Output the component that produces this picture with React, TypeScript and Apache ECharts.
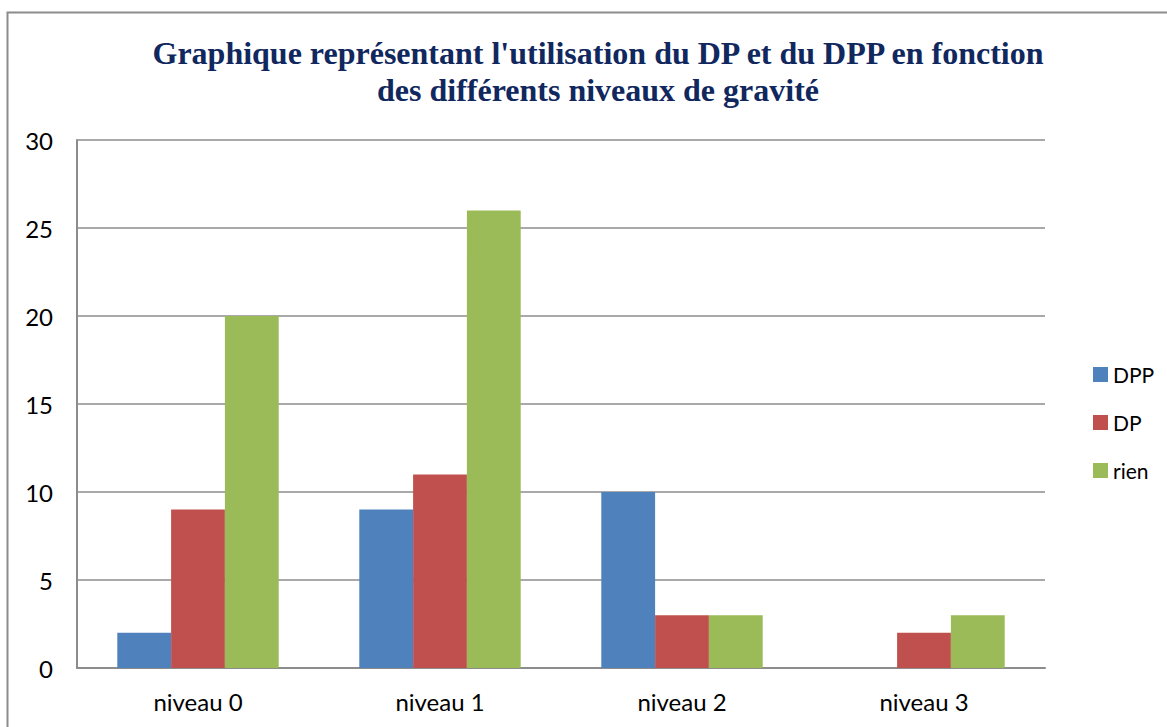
import React, { useEffect, useRef } from "react";
import * as echarts from "echarts";

const categories = ["niveau 0", "niveau 1", "niveau 2", "niveau 3"];
const seriesNames = ["DPP", "DP", "rien"];
const dppValues = [2, 9, 10, 0];
const dpValues = [9, 11, 3, 2];
const rienValues = [20, 26, 3, 3];
const colors = ["#4F81BD", "#C0504D", "#9BBB59"];
const titleLines = [
  "Graphique représentant l'utilisation du DP et du DPP en fonction",
  "des différents niveaux de gravité",
];

export default function App() {
  const ref = useRef<HTMLDivElement>(null);
  useEffect(() => {
    if (!ref.current) return;
    const chart = echarts.init(ref.current, null, { renderer: "svg" });
    const labelFont = "Lato";
    chart.setOption({
      animation: false,
      backgroundColor: "#ffffff",
      title: {
        text: titleLines.join("\n"),
        left: 593,
        top: 29,
        textAlign: "center",
        textStyle: {
          fontFamily: "Liberation Serif",
          fontWeight: "bold",
          fontSize: 32,
          lineHeight: 37,
          color: "#10285E",
        },
      },
      legend: {
        orient: "vertical",
        left: 1088,
        top: 359,
        itemWidth: 15,
        itemHeight: 15,
        itemGap: 27,
        icon: "rect",
        data: seriesNames,
        textStyle: { fontFamily: labelFont, fontSize: 21, color: "#000" },
      },
      graphic: [
        {
          type: "rect",
          shape: { x: 7.5, y: 12.5, width: 1200, height: 800 },
          style: { fill: "none", stroke: "#8c8c8c", lineWidth: 2 },
          silent: true,
        },
      ],
      grid: { left: 77, top: 140, width: 968, height: 528 },
      xAxis: {
        type: "category",
        data: categories,
        axisLine: { lineStyle: { color: "#8c8c8c", width: 2 } },
        axisTick: { show: false },
        axisLabel: { fontFamily: labelFont, fontSize: 24, color: "#000", margin: 21 },
      },
      yAxis: {
        type: "value",
        min: 0,
        max: 30,
        interval: 5,
        axisLine: { show: true, lineStyle: { color: "#8c8c8c", width: 2 } },
        axisTick: { show: false },
        splitLine: { lineStyle: { color: "#8c8c8c", width: 1.5 } },
        axisLabel: { fontFamily: labelFont, fontSize: 24, color: "#000", margin: 24 },
      },
      series: [
        { name: seriesNames[0], type: "bar", data: dppValues, barGap: "0%", barCategoryGap: "33.3%", itemStyle: { color: colors[0] } },
        { name: seriesNames[1], type: "bar", data: dpValues, barGap: "0%", barCategoryGap: "33.3%", itemStyle: { color: colors[1] } },
        { name: seriesNames[2], type: "bar", data: rienValues, barGap: "0%", barCategoryGap: "33.3%", itemStyle: { color: colors[2] } },
      ],
    });
    return () => chart.dispose();
  }, []);
  return (
    <div
      ref={ref}
      style={{ position: "absolute", left: 0, top: 0, width: 1167, height: 727 }}
    />
  );
}
